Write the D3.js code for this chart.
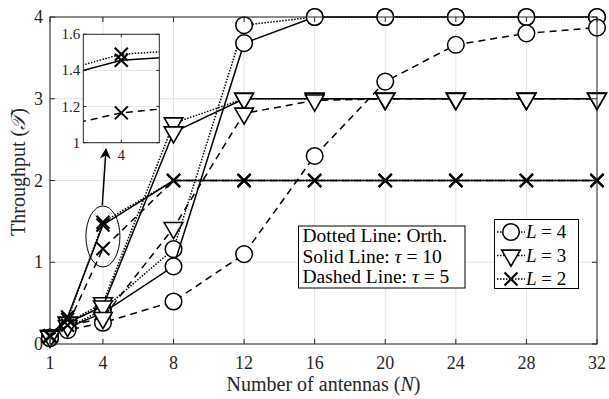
<!DOCTYPE html>
<html>
<head>
<meta charset="utf-8">
<script src="https://cdn.jsdelivr.net/npm/d3@7"></script>
<style>
  body { margin: 0; background: #fff; }
  svg { display: block; }
  text { font-family: "Liberation Serif", "DejaVu Serif", serif; fill: #262626; }
</style>
</head>
<body>
<script>
// Number of antennas (x axis)
const antennas = [1, 2, 4, 8, 12, 16, 20, 24, 28, 32];

// L = 4 (circles)
const orthL4  = [0.08, 0.20, 0.42, 1.16, 3.90, 4.00, 4.00, 4.00, 4.00, 4.00];
const tau10L4 = [0.08, 0.20, 0.38, 0.95, 3.68, 4.00, 4.00, 4.00, 4.00, 4.00];
const tau5L4  = [0.07, 0.17, 0.26, 0.52, 1.10, 2.30, 3.21, 3.66, 3.80, 3.87];

// L = 3 (triangles)
const orthL3  = [0.10, 0.26, 0.50, 2.70, 3.00, 3.00, 3.00, 3.00, 3.00, 3.00];
const tau10L3 = [0.10, 0.26, 0.46, 2.59, 3.00, 3.00, 3.00, 3.00, 3.00, 3.00];
const tau5L3  = [0.09, 0.22, 0.32, 1.42, 2.82, 2.98, 3.00, 3.00, 3.00, 3.00];

// L = 2 (crosses)
const orthL2  = [0.10, 0.30, 1.49, 2.00, 2.00, 2.00, 2.00, 2.00, 2.00, 2.00];
const tau10L2 = [0.10, 0.33, 1.456, 2.00, 2.00, 2.00, 2.00, 2.00, 2.00, 2.00];
const tau5L2  = [0.09, 0.23, 1.165, 2.00, 2.00, 2.00, 2.00, 2.00, 2.00, 2.00];

const xTicks = [1, 4, 8, 12, 16, 20, 24, 28, 32];
const yTicks = [0, 1, 2, 3, 4];
const insetYTicks = [1, 1.2, 1.4, 1.6];
const insetXTicks = [4];

const notes = [
  ["Dotted Line: Orth.", null],
  ["Solid Line: ", "\u03C4", " = 10"],
  ["Dashed Line: ", "\u03C4", " = 5"]
];
const legendItems = [
  { marker: "circle", label: "4" },
  { marker: "triangle", label: "3" },
  { marker: "cross", label: "2" }
];

const series = [
  { values: orthL4, style: "dotted", marker: "circle" },
  { values: tau10L4, style: "solid", marker: "circle" },
  { values: tau5L4, style: "dashed", marker: "circle" },
  { values: orthL3, style: "dotted", marker: "triangle" },
  { values: tau10L3, style: "solid", marker: "triangle" },
  { values: tau5L3, style: "dashed", marker: "triangle" },
  { values: orthL2, style: "dotted", marker: "cross" },
  { values: tau10L2, style: "solid", marker: "cross" },
  { values: tau5L2, style: "dashed", marker: "cross" }
];

const width = 609, height = 399;
const plot = { left: 50, right: 597, top: 17, bottom: 344 };
const axisColor = "#262626";
const gridColor = "#e3e3e3";
const dashes = { dotted: "1.5,1.5", solid: null, dashed: "7,5" };

const svg = d3.select("body").append("svg")
  .attr("width", width)
  .attr("height", height);

const x = d3.scaleLinear().domain([1, 32]).range([plot.left, plot.right]);
const y = d3.scaleLinear().domain([0, 4]).range([plot.bottom, plot.top]);

function drawMarker(g, type, cx, cy) {
  if (type === "circle") {
    g.append("circle").attr("cx", cx).attr("cy", cy).attr("r", 8.3)
      .attr("fill", "#fff").attr("stroke", "#000").attr("stroke-width", 1.5);
  } else if (type === "triangle") {
    g.append("path")
      .attr("d", d3.symbol().type(d3.symbolTriangle).size(150)())
      .attr("transform", `translate(${cx},${cy}) rotate(180)`)
      .attr("fill", "#fff").attr("stroke", "#000").attr("stroke-width", 1.6);
  } else {
    const s = 6.5;
    g.append("path")
      .attr("d", `M${cx - s},${cy - s}L${cx + s},${cy + s}M${cx - s},${cy + s}L${cx + s},${cy - s}`)
      .attr("fill", "none").attr("stroke", "#000").attr("stroke-width", 2);
  }
}

// Grid
const grid = svg.append("g");
grid.selectAll(".gx").data(xTicks).enter().append("line")
  .attr("x1", d => x(d)).attr("x2", d => x(d))
  .attr("y1", plot.top).attr("y2", plot.bottom)
  .attr("stroke", gridColor).attr("stroke-width", 1);
grid.selectAll(".gy").data(yTicks).enter().append("line")
  .attr("x1", plot.left).attr("x2", plot.right)
  .attr("y1", d => y(d)).attr("y2", d => y(d))
  .attr("stroke", gridColor).attr("stroke-width", 1);

// Axes box with inward ticks
function drawBox(g, xs, ys, xt, yt, len) {
  const [x0, x1] = xs.range();
  const [y0, y1] = ys.range();
  g.append("rect")
    .attr("x", x0).attr("y", y1).attr("width", x1 - x0).attr("height", y0 - y1)
    .attr("fill", "none").attr("stroke", axisColor).attr("stroke-width", 1);
  xt.forEach(t => {
    g.append("line").attr("x1", xs(t)).attr("x2", xs(t)).attr("y1", y0).attr("y2", y0 - len)
      .attr("stroke", axisColor);
    g.append("line").attr("x1", xs(t)).attr("x2", xs(t)).attr("y1", y1).attr("y2", y1 + len)
      .attr("stroke", axisColor);
  });
  yt.forEach(t => {
    g.append("line").attr("x1", x0).attr("x2", x0 + len).attr("y1", ys(t)).attr("y2", ys(t))
      .attr("stroke", axisColor);
    g.append("line").attr("x1", x1).attr("x2", x1 - len).attr("y1", ys(t)).attr("y2", ys(t))
      .attr("stroke", axisColor);
  });
}

// Tick labels
svg.append("g").selectAll("text").data(xTicks).enter().append("text")
  .attr("x", d => x(d)).attr("y", 369)
  .attr("text-anchor", "middle").style("font-size", "18px")
  .text(d => d);
svg.append("g").selectAll("text").data(yTicks).enter().append("text")
  .attr("x", 43).attr("y", d => y(d) + 6)
  .attr("text-anchor", "end").style("font-size", "18px")
  .text(d => d);

// Axis labels
const xl = svg.append("text")
  .attr("x", (plot.left + plot.right) / 2).attr("y", 391)
  .attr("text-anchor", "middle").style("font-size", "20px");
xl.append("tspan").text("Number of antennas (");
xl.append("tspan").style("font-style", "italic").text("N");
xl.append("tspan").text(")");

const yl = svg.append("text")
  .attr("transform", "translate(25,172) rotate(-90)")
  .attr("text-anchor", "middle").style("font-size", "20px");
yl.append("tspan").text("Throughput (");
yl.append("tspan").style("font-style", "italic").text("\uD835\uDCAF");
yl.append("tspan").text(")");

// Data
const lineGen = d3.line().x(d => x(d[0])).y(d => y(d[1]));
const dataG = svg.append("g");
series.forEach(s => {
  const pts = antennas.map((n, i) => [n, s.values[i]]);
  dataG.append("path").datum(pts)
    .attr("d", lineGen)
    .attr("fill", "none").attr("stroke", "#000").attr("stroke-width", 1.5)
    .attr("stroke-dasharray", dashes[s.style]);
  pts.forEach(p => drawMarker(dataG, s.marker, x(p[0]), y(p[1])));
});

drawBox(svg.append("g"), x, y, xTicks, yTicks, 5);

// Ellipse and arrow pointing to the inset
svg.append("ellipse")
  .attr("cx", x(4)).attr("cy", y((1.49 + 1.165) / 2) + 1)
  .attr("rx", 17).attr("ry", 30.5)
  .attr("fill", "none").attr("stroke", "#000").attr("stroke-width", 1);

svg.append("defs").append("marker")
  .attr("id", "arrowhead").attr("viewBox", "0 0 10 10")
  .attr("refX", 9).attr("refY", 5)
  .attr("markerWidth", 11).attr("markerHeight", 11)
  .attr("markerUnits", "userSpaceOnUse")
  .attr("orient", "auto")
  .append("path").attr("d", "M0,0L10,5L0,10L3,5Z").attr("fill", "#000");

svg.append("line")
  .attr("x1", 102.3).attr("y1", 205).attr("x2", 106).attr("y2", 149)
  .attr("stroke", "#000").attr("stroke-width", 1.5)
  .attr("marker-end", "url(#arrowhead)");

// Inset
const inset = { left: 83.3, right: 159.3, top: 34.3, bottom: 142.7 };
const ix = d3.scaleLinear().domain([3.9, 4.1]).range([inset.left, inset.right]);
const iy = d3.scaleLinear().domain([1, 1.6]).range([inset.bottom, inset.top]);
const ig = svg.append("g");
ig.append("rect")
  .attr("x", inset.left).attr("y", inset.top)
  .attr("width", inset.right - inset.left).attr("height", inset.bottom - inset.top)
  .attr("fill", "#fff");
svg.append("clipPath").attr("id", "insetClip").append("rect")
  .attr("x", inset.left).attr("y", inset.top)
  .attr("width", inset.right - inset.left).attr("height", inset.bottom - inset.top);
ig.selectAll(".igx").data(insetXTicks).enter().append("line")
  .attr("x1", d => ix(d)).attr("x2", d => ix(d))
  .attr("y1", inset.top).attr("y2", inset.bottom)
  .attr("stroke", gridColor);
ig.selectAll(".igy").data(insetYTicks).enter().append("line")
  .attr("x1", inset.left).attr("x2", inset.right)
  .attr("y1", d => iy(d)).attr("y2", d => iy(d))
  .attr("stroke", gridColor);

const iLine = d3.line().x(d => ix(d[0])).y(d => iy(d[1]));
const idata = ig.append("g").attr("clip-path", "url(#insetClip)");
series.filter(s => s.marker === "cross").forEach(s => {
  const pts = antennas.map((n, i) => [n, s.values[i]]);
  idata.append("path").datum(pts)
    .attr("d", iLine)
    .attr("fill", "none").attr("stroke", "#000").attr("stroke-width", 1.5)
    .attr("stroke-dasharray", dashes[s.style]);
  pts.filter(p => p[0] === 4).forEach(p => drawMarker(idata, "cross", ix(p[0]), iy(p[1])));
});
drawBox(ig, ix, iy, insetXTicks, insetYTicks, 3);
ig.selectAll(".ity").data(insetYTicks).enter().append("text")
  .attr("x", inset.left - 3).attr("y", d => iy(d) + 5)
  .attr("text-anchor", "end").style("font-size", "15px")
  .text(d => d);
ig.selectAll(".itx").data(insetXTicks).enter().append("text")
  .attr("x", d => ix(d)).attr("y", inset.bottom + 17)
  .attr("text-anchor", "middle").style("font-size", "15px")
  .text(d => d);

// Line-style note box
const note = svg.append("g");
note.append("rect")
  .attr("x", 298.5).attr("y", 226).attr("width", 166.5).attr("height", 62)
  .attr("fill", "#fff").attr("stroke", "#000").attr("stroke-width", 1);
notes.forEach((row, i) => {
  const t = note.append("text")
    .attr("x", 302.5).attr("y", 242 + i * 20.7)
    .style("font-size", "19.5px").style("fill", "#000");
  t.append("tspan").text(row[0]);
  if (row[1]) {
    t.append("tspan").style("font-style", "italic").text(row[1]);
    t.append("tspan").text(row[2]);
  }
});

// Legend
const leg = svg.append("g");
leg.append("rect")
  .attr("x", 494.5).attr("y", 219.5).attr("width", 84).attr("height", 69)
  .attr("fill", "#fff").attr("stroke", "#000").attr("stroke-width", 1);
legendItems.forEach((item, i) => {
  const cy = 232 + i * 23.5;
  leg.append("line")
    .attr("x1", 497).attr("x2", 525).attr("y1", cy).attr("y2", cy)
    .attr("stroke", "#000").attr("stroke-width", 1.5).attr("stroke-dasharray", dashes.dotted);
  drawMarker(leg, item.marker, 511, cy);
  const t = leg.append("text")
    .attr("x", 526).attr("y", cy + 6)
    .style("font-size", "19px").style("fill", "#000");
  t.append("tspan").style("font-style", "italic").text("L");
  t.append("tspan").text(" = " + item.label);
});
</script>
</body>
</html>
